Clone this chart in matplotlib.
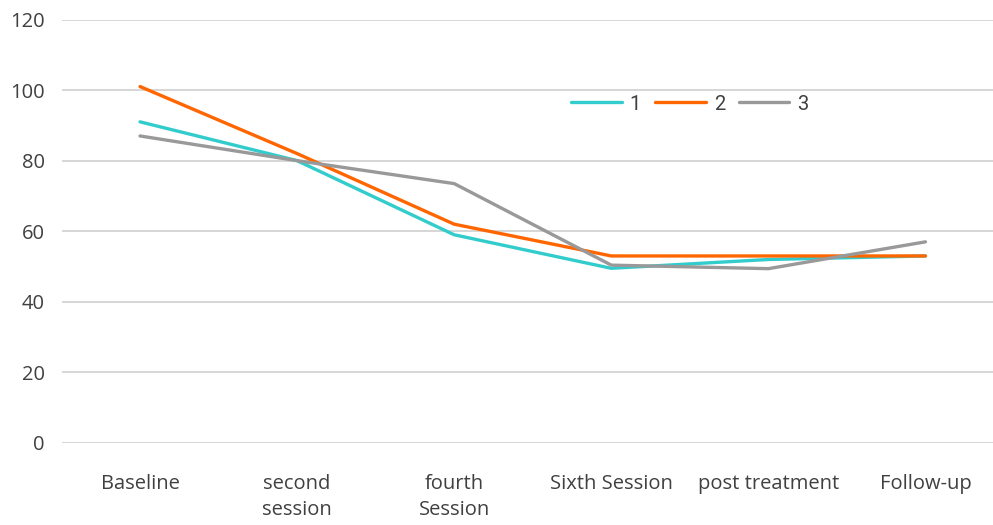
import matplotlib
matplotlib.use('Agg')
import matplotlib.pyplot as plt

# Data
categories = ['Baseline', 'second\nsession', 'fourth\nSession', 'Sixth Session', 'post treatment', 'Follow-up']
series_1 = [91, 80, 59, 49.5, 52, 53]
series_2 = [101, 82, 62, 53, 53, 53]
series_3 = [87, 80, 73.5, 50.4, 49.4, 57]
labels = ['1', '2', '3']
colors = ['#33CCCC', '#FF6600', '#999999']

plt.rcParams['font.family'] = ['Open Sans', 'DejaVu Sans']

fig = plt.figure(figsize=(9.93, 5.25), dpi=100)
ax = fig.add_axes([61.5 / 993, 1 - 443 / 525, (993 - 61.5) / 993, (443 - 19.5) / 525])

x = range(len(categories))
for vals, lab, col in zip([series_1, series_2, series_3], labels, colors):
    ax.plot(x, vals, color=col, linewidth=2.4, label=lab, solid_capstyle='round')

ax.set_ylim(0, 120)
ax.set_yticks(range(0, 121, 20))
ax.set_xlim(-0.5, 5.43)
ax.set_xticks(list(x))
ax.set_xticklabels(categories, fontsize=14.5, color='#404040', linespacing=1.45)
ax.tick_params(axis='y', labelsize=14.5, labelcolor='#404040', length=0, pad=12)
ax.tick_params(axis='x', length=0, pad=22)
ax.grid(axis='y', color='#D0D0D0', linewidth=1.2)
ax.set_axisbelow(True)
for s in ax.spines.values():
    s.set_visible(False)

leg = fig.legend(loc='center', bbox_to_anchor=(690 / 993, 1 - 104 / 525), ncol=3,
                 frameon=False, fontsize=14.5, handlelength=2.5, handletextpad=0.4,
                 columnspacing=0.7)
for t in leg.get_texts():
    t.set_color('#404040')
    t.set_family(['Roboto', 'DejaVu Sans'])

fig.savefig('out.png', dpi=100)
